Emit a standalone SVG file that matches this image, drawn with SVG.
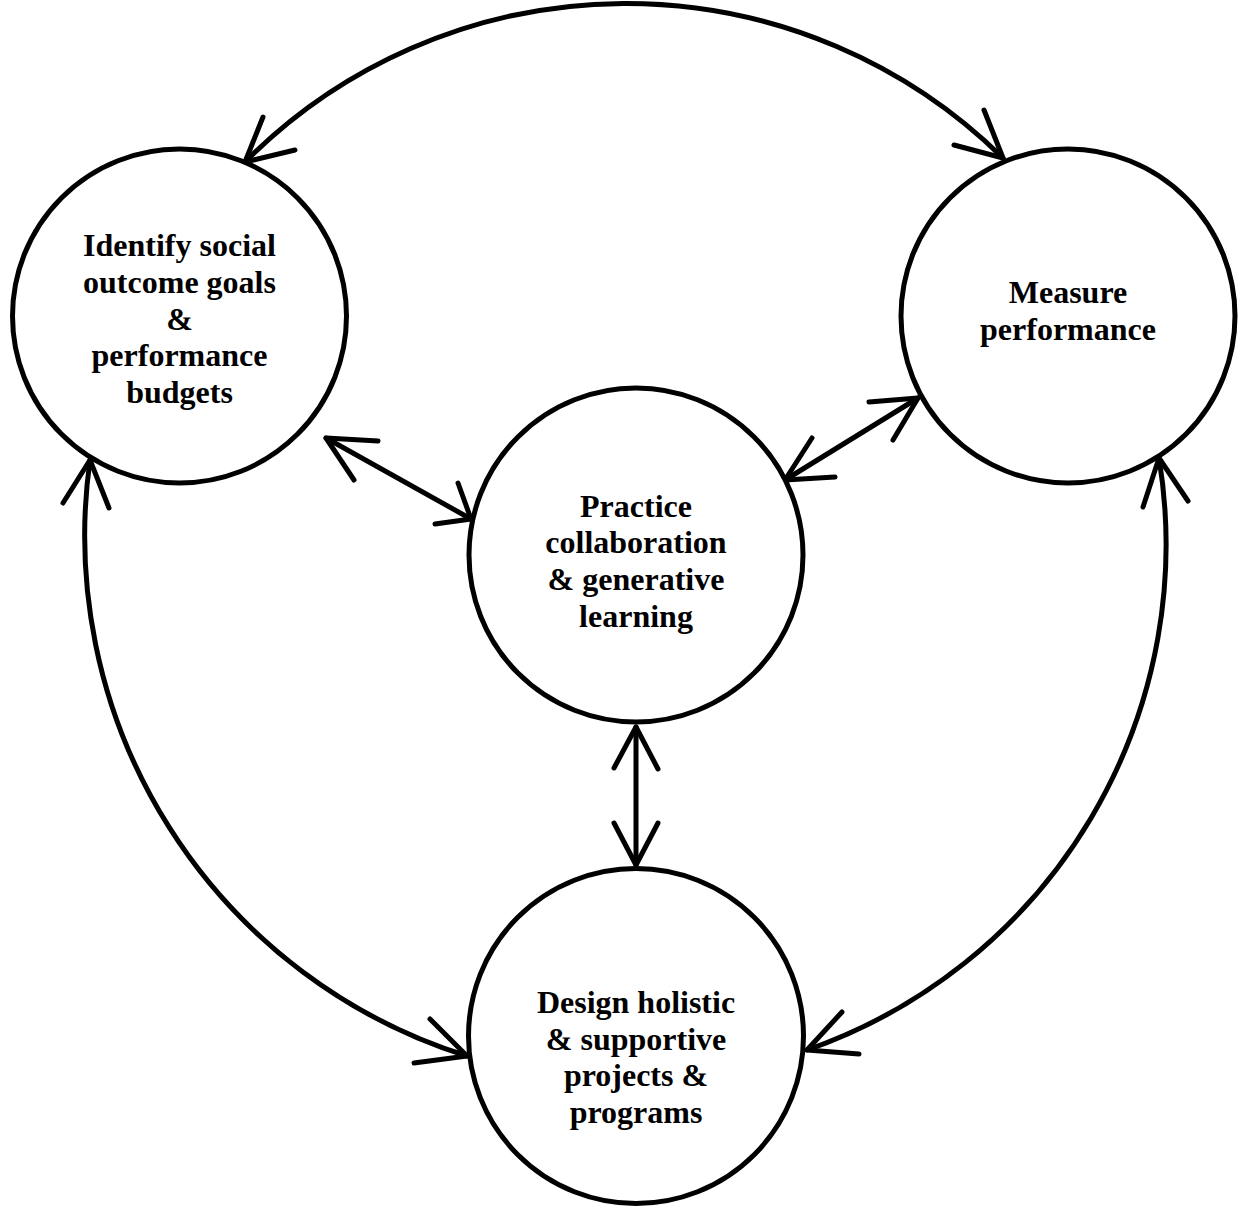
<svg xmlns="http://www.w3.org/2000/svg" width="1238" height="1207" viewBox="0 0 1238 1207">
<style>
.node{fill:#fff;stroke:#000;stroke-width:5}
.lbl{font-family:"Liberation Serif","Times New Roman",serif;font-weight:bold;font-size:32px;fill:#000;text-anchor:middle}
.con{fill:none;stroke:#000;stroke-width:5;stroke-linecap:round;stroke-linejoin:round}
</style>
<rect width="1238" height="1207" fill="#fff"/>
<g id="connectors">
  <path class="con" d="M245 162 A537 537 0 0 1 1003 158"/>
  <polyline class="con" points="263,117 245,162 295,150"/>
  <polyline class="con" points="984,110 1003,158 954,145"/>
  <path class="con" d="M90 460 A545 545 0 0 0 467 1056"/>
  <polyline class="con" points="63,503 90,460 109,508"/>
  <polyline class="con" points="430,1019 467,1056 414,1063"/>
  <path class="con" d="M1159 458 A535 535 0 0 1 807 1050"/>
  <polyline class="con" points="1143,507 1159,458 1188,501"/>
  <polyline class="con" points="842,1012 807,1050 859,1054"/>
  <line class="con" x1="326" y1="438" x2="471" y2="519"/>
  <polyline class="con" points="378,441 326,438 354,480"/>
  <polyline class="con" points="435,524 471,519 458,483"/>
  <line class="con" x1="785" y1="480" x2="918" y2="398"/>
  <polyline class="con" points="812,438 785,480 835,477"/>
  <polyline class="con" points="869,402 918,398 893,440"/>
  <line class="con" x1="636" y1="727" x2="636" y2="865"/>
  <polyline class="con" points="614,768 636,727 658,769"/>
  <polyline class="con" points="614,823 636,865 658,823"/>
</g>
<g id="node-identify">
  <circle class="node" cx="179.5" cy="316" r="167"/>
  <text class="lbl" x="179.5" y="256">Identify social</text>
  <text class="lbl" x="179.5" y="292.8">outcome goals</text>
  <text class="lbl" x="179.5" y="329.6">&amp;</text>
  <text class="lbl" x="179.5" y="366.4">performance</text>
  <text class="lbl" x="179.5" y="403.2">budgets</text>
</g>
<g id="node-measure">
  <circle class="node" cx="1068" cy="316" r="167"/>
  <text class="lbl" x="1068" y="303.3">Measure</text>
  <text class="lbl" x="1068" y="339.7">performance</text>
</g>
<g id="node-practice">
  <circle class="node" cx="636" cy="555" r="167"/>
  <text class="lbl" x="636" y="516.5">Practice</text>
  <text class="lbl" x="636" y="553.3">collaboration</text>
  <text class="lbl" x="636" y="590.1">&amp; generative</text>
  <text class="lbl" x="636" y="626.9">learning</text>
</g>
<g id="node-design">
  <circle class="node" cx="636" cy="1036" r="167.5"/>
  <text class="lbl" x="636" y="1012.7">Design holistic</text>
  <text class="lbl" x="636" y="1049.5">&amp; supportive</text>
  <text class="lbl" x="636" y="1086.3">projects &amp;</text>
  <text class="lbl" x="636" y="1123.1">programs</text>
</g>
</svg>
